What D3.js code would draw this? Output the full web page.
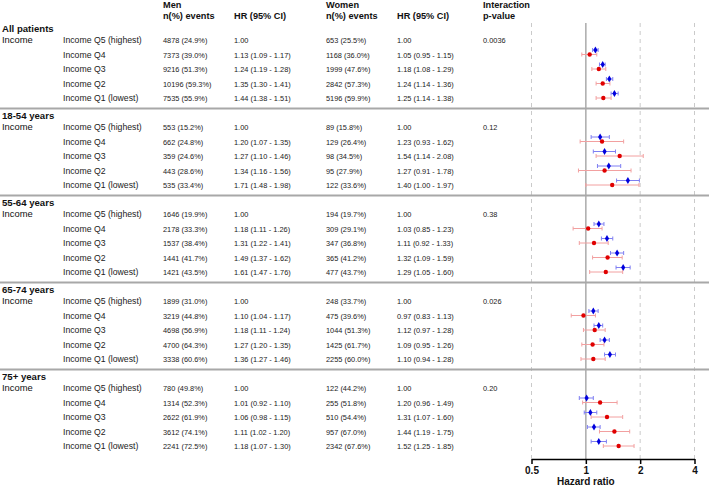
<!DOCTYPE html>
<html><head><meta charset="utf-8">
<script src="https://cdn.jsdelivr.net/npm/d3@7/dist/d3.min.js"></script>
<style>
body{margin:0;background:#fff;}
svg{display:block;font-family:"Liberation Sans",Arial,sans-serif;}
</style></head>
<body>
<svg id="chart" width="709" height="486"></svg>
<script>
const sections = ["All patients","18-54 years","55-64 years","65-74 years","75+ years"];
const rowLabels = ["Income Q5 (highest)","Income Q4","Income Q3","Income Q2","Income Q1 (lowest)"];
const pValues = ["0.0036","0.12","0.38","0.026","0.20"];
const menEvents = [
  ["4878 (24.9%)","7373 (39.0%)","9216 (51.3%)","10196 (59.3%)","7535 (55.9%)"],
  ["553 (15.2%)","662 (24.8%)","359 (24.6%)","443 (28.6%)","535 (33.4%)"],
  ["1646 (19.9%)","2178 (33.3%)","1537 (38.4%)","1441 (41.7%)","1421 (43.5%)"],
  ["1899 (31.0%)","3219 (44.8%)","4698 (56.9%)","4700 (64.3%)","3338 (60.6%)"],
  ["780 (49.8%)","1314 (52.3%)","2622 (61.9%)","3612 (74.1%)","2241 (72.5%)"]
];
const womenEvents = [
  ["653 (25.5%)","1168 (36.0%)","1999 (47.6%)","2842 (57.3%)","5196 (59.9%)"],
  ["89 (15.8%)","129 (26.4%)","98 (34.5%)","95 (27.9%)","122 (33.6%)"],
  ["194 (19.7%)","309 (29.1%)","347 (36.8%)","365 (41.2%)","477 (43.7%)"],
  ["248 (33.7%)","475 (39.6%)","1044 (51.3%)","1425 (61.7%)","2255 (60.0%)"],
  ["122 (44.2%)","255 (51.8%)","510 (54.4%)","957 (67.0%)","2342 (67.6%)"]
];
// [HR, lower, upper] for Q4, Q3, Q2, Q1 (Q5 is reference = 1.00)
const menHR = [
  [[1.13,1.09,1.17],[1.24,1.19,1.28],[1.35,1.30,1.41],[1.44,1.38,1.51]],
  [[1.20,1.07,1.35],[1.27,1.10,1.46],[1.34,1.16,1.56],[1.71,1.48,1.98]],
  [[1.18,1.11,1.26],[1.31,1.22,1.41],[1.49,1.37,1.62],[1.61,1.47,1.76]],
  [[1.10,1.04,1.17],[1.18,1.11,1.24],[1.27,1.20,1.35],[1.36,1.27,1.46]],
  [[1.01,0.92,1.10],[1.06,0.98,1.15],[1.11,1.02,1.20],[1.18,1.07,1.30]]
];
const womenHR = [
  [[1.05,0.95,1.15],[1.18,1.08,1.29],[1.24,1.14,1.36],[1.25,1.14,1.38]],
  [[1.23,0.93,1.62],[1.54,1.14,2.08],[1.27,0.91,1.78],[1.40,1.00,1.97]],
  [[1.03,0.85,1.23],[1.11,0.92,1.33],[1.32,1.09,1.59],[1.29,1.05,1.60]],
  [[0.97,0.83,1.13],[1.12,0.97,1.28],[1.09,0.95,1.26],[1.10,0.94,1.28]],
  [[1.20,0.96,1.49],[1.31,1.07,1.60],[1.44,1.19,1.75],[1.52,1.25,1.85]]
];
const xTicks = [0.5,1,2,4];

(function(){
const svg = d3.select("#chart");
const x = d3.scaleLog().base(2).domain([0.5,4]).range([531.5,694.5]);
const sectionY = d3.scaleLinear().domain([0,1]).range([40,127]);
const rowY = (s,r) => sectionY(s) + r*14.5;
const fmt = v => v.toFixed(2);
const hrText = d => `${fmt(d[0])} (${fmt(d[1])} - ${fmt(d[2])})`;

const col = {label:63, men:163, menHR:234, women:326, womenHR:397, p:483};

// header
const hdr = svg.append("g").attr("font-weight","bold").attr("font-size","9.2px").attr("fill","#111");
[["Men",col.men,8],["n(%) events",col.men,18.5],["HR (95% CI)",col.menHR,18.5],
 ["Women",col.women,8],["n(%) events",col.women,18.5],["HR (95% CI)",col.womenHR,18.5],
 ["Interaction",col.p,8],["p-value",col.p,18.5]].forEach(([t,xx,yy])=>{
  hdr.append("text").attr("x",xx).attr("y",yy).text(t);
});

// grid lines
const plotTop = 23, axisY = 459;
svg.append("g").selectAll("line").data(xTicks.filter(t=>t!==1)).join("line")
  .attr("x1",d=>x(d)).attr("x2",d=>x(d)).attr("y1",plotTop).attr("y2",axisY)
  .attr("stroke","#c4c4c4").attr("stroke-width",0.9).attr("stroke-dasharray","4,4");
svg.append("line").attr("x1",x(1)).attr("x2",x(1)).attr("y1",plotTop).attr("y2",axisY)
  .attr("stroke","#b0b0b0").attr("stroke-width",1.6);

// separators
svg.append("g").selectAll("line").data(d3.range(4)).join("line")
  .attr("x1",0).attr("x2",709)
  .attr("y1",d=>sectionY(d)+4*14.5+10.5).attr("y2",d=>sectionY(d)+4*14.5+10.5)
  .attr("stroke","#a8a8a8").attr("stroke-width",1.8);

sections.forEach((name,s)=>{
  const g = svg.append("g");
  g.append("text").attr("x",2).attr("y",rowY(s,0)-8).attr("font-weight","bold")
    .attr("font-size","9.6px").attr("fill","#111").text(name);
  g.append("text").attr("x",2).attr("y",rowY(s,0)+3.3)
    .attr("font-size","9.4px").attr("fill","#111").text("Income");
  rowLabels.forEach((lab,r)=>{
    const yy = rowY(s,r)+3;
    g.append("text").attr("x",col.label).attr("y",yy).attr("font-size","8.7px").attr("fill","#222").text(lab);
    g.append("text").attr("x",col.men).attr("y",yy).attr("font-size","7.4px").attr("fill","#222").text(menEvents[s][r]);
    g.append("text").attr("x",col.menHR).attr("y",yy).attr("font-size","7.4px").attr("fill","#222")
      .text(r===0 ? "1.00" : hrText(menHR[s][r-1]));
    g.append("text").attr("x",col.women).attr("y",yy).attr("font-size","7.4px").attr("fill","#222").text(womenEvents[s][r]);
    g.append("text").attr("x",col.womenHR).attr("y",yy).attr("font-size","7.4px").attr("fill","#222")
      .text(r===0 ? "1.00" : hrText(womenHR[s][r-1]));
  });
  g.append("text").attr("x",col.p).attr("y",rowY(s,0)+3).attr("font-size","7.4px").attr("fill","#222").text(pValues[s]);

  const drawCI = (arr, dy, lineColor, ptColor, symbol, size) => {
    arr.forEach((d,i)=>{
      const yy = rowY(s,i+1)+dy;
      g.append("line").attr("x1",x(d[1])).attr("x2",x(d[2])).attr("y1",yy).attr("y2",yy)
        .attr("stroke",lineColor).attr("stroke-width",1);
      [d[1],d[2]].forEach(v=>g.append("line").attr("x1",x(v)).attr("x2",x(v))
        .attr("y1",yy-2).attr("y2",yy+2).attr("stroke",lineColor).attr("stroke-width",1));
      g.append("path").attr("d",d3.symbol().type(symbol).size(size)())
        .attr("transform",`translate(${x(d[0])},${yy})`).attr("fill",ptColor);
    });
  };
  drawCI(menHR[s], -4.5, "#7f7ff2", "#0000dd", d3.symbolDiamond, 15);
  drawCI(womenHR[s], 0, "#f2a0a0", "#e00000", d3.symbolCircle, 15);
});

// axis
const axis = d3.axisBottom(x).tickValues(xTicks).tickFormat(d=>String(d)).tickSize(5).tickSizeOuter(0);
const ax = svg.append("g").attr("transform",`translate(0,${axisY})`).call(axis);
ax.select(".domain").attr("stroke","#000").attr("stroke-width",1.5);
ax.selectAll(".tick line").attr("stroke","#000").attr("stroke-width",1.5);
ax.selectAll(".tick text").attr("font-family","Liberation Sans, Arial, sans-serif")
  .attr("font-size","10px").attr("font-weight","bold").attr("fill","#111")
  .attr("y",8).attr("dy","0.71em");
svg.append("text").attr("x",x(1)).attr("y",485).attr("text-anchor","middle")
  .attr("font-size","10px").attr("font-weight","bold").attr("fill","#111").text("Hazard ratio");
})();
</script>
</body></html>
